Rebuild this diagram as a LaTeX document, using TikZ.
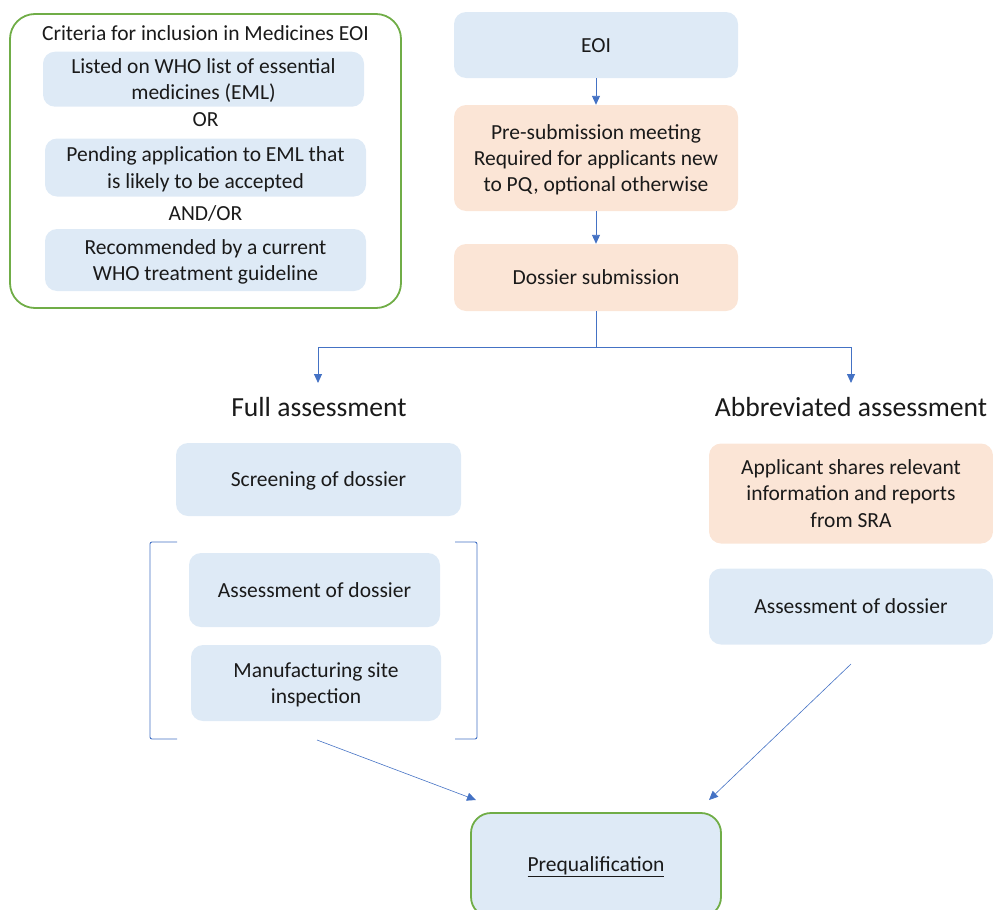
\documentclass[tikz,border=0pt]{standalone}
\usepackage{fontspec}
\setmainfont{Carlito}
\usetikzlibrary{arrows.meta,calc}
\definecolor{boxblue}{HTML}{DEEAF6}
\definecolor{boxpeach}{HTML}{FBE5D6}
\definecolor{linblue}{HTML}{4472C4}
\definecolor{grn}{HTML}{70AD47}
\definecolor{txt}{HTML}{1A1A1A}
\newcommand\ppstrut{\rule[-5.8pt]{0pt}{26.3pt}}
\tikzset{
  plain/.style={text=txt, inner sep=0pt, align=center,
    font=\fontsize{21.5}{26.3}\selectfont,
    execute at begin node=\ppstrut, execute at end node=\ppstrut},
  base/.style={plain, rounded corners=12pt},
  bluebox/.style={base, fill=boxblue},
  peachbox/.style={base, fill=boxpeach},
  heading/.style={text=txt, inner sep=0pt, font=\fontsize{27.6}{33}\selectfont},
  arr/.style={draw=linblue, line width=0.9pt, -{Triangle[width=8pt,length=9pt]}},
  lin/.style={draw=linblue, line width=0.9pt},
  grnbox/.style={draw=grn, line width=1.8pt, inner sep=0pt},
}
\begin{document}
\begin{tikzpicture}[x=1pt,y=-1pt]
\useasboundingbox (0,0) rectangle (993,910);
% criteria panel
\node[grnbox, rounded corners=25pt, minimum width=391pt, minimum height=294pt] (crit) at (205.5,161) {};
\node[plain] (crittitle) at (205.5,33.5) {Criteria for inclusion in Medicines EOI};
\node[bluebox, minimum width=321pt, minimum height=55pt] (c1) at (203.5,79.2) {\ppstrut Listed on WHO list of essential\\medicines (EML)};
\node[plain] (or1) at (205.5,119.4) {OR};
\node[bluebox, minimum width=321pt, minimum height=58pt] (c2) at (205.5,167.5) {\ppstrut Pending application to EML that\\is likely to be accepted};
\node[plain] (or2) at (205.5,212.7) {AND/OR};
\node[bluebox, minimum width=321pt, minimum height=62pt] (c3) at (205.5,260) {\ppstrut Recommended by a current\\WHO treatment guideline};
% main column
\node[bluebox, minimum width=284pt, minimum height=66pt] (eoi) at (596,45) {EOI};
\node[peachbox, minimum width=284pt, minimum height=106pt] (pre) at (596,158) {\ppstrut Pre-submission meeting\\Required for applicants new\\to PQ, optional otherwise};
\node[peachbox, minimum width=284pt, minimum height=67pt] (dos) at (596,277.5) {Dossier submission};
\draw[arr] (eoi) -- (pre);
\draw[arr] (pre) -- (dos);
% headings
\node[heading, anchor=base] (fullh) at (319,416) {Full assessment};
\node[heading, anchor=base] (abbrh) at (851,416) {Abbreviated assessment};
\coordinate (split) at (596,347);
\coordinate (fa) at (318,383);
\coordinate (aa) at (851,383);
\draw[lin] (dos.south) -- (split);
\draw[arr] (split) -| (fa);
\draw[arr] (split) -| (aa);
% full assessment
\node[bluebox, minimum width=285pt, minimum height=73pt] (scr) at (318.5,479.5) {Screening of dossier};
\node[bluebox, minimum width=251pt, minimum height=74pt] (ass1) at (314.5,590) {Assessment of dossier};
\node[bluebox, minimum width=250pt, minimum height=76pt] (man) at (316,683) {\ppstrut Manufacturing site\\inspection};
\draw[lin, rounded corners=2pt] (177,542) -- (150,542) -- (150,739) -- (177,739);
\draw[lin, rounded corners=2pt] (455,542) -- (477,542) -- (477,739) -- (455,739);
% abbreviated assessment
\node[peachbox, minimum width=284pt, minimum height=100pt] (app) at (851,493.5) {\ppstrut Applicant shares relevant\\information and reports\\from SRA};
\node[bluebox, minimum width=284pt, minimum height=76pt] (ass2) at (851,606.5) {Assessment of dossier};
% prequalification
\node[grnbox, fill=boxblue, rounded corners=20pt, minimum width=250pt, minimum height=104pt] (pq) at (596,865) {};
\node[plain] (pqt) at (596,864) {\underline{Prequalification}};
\coordinate (fstart) at (317,740);
\coordinate (fend) at (476,800);
\coordinate (astart) at (851,664);
\coordinate (aend) at (709,800);
\draw[arr, line width=0.6pt] (fstart) -- (fend);
\draw[arr, line width=0.6pt] (astart) -- (aend);
\end{tikzpicture}
\end{document}
